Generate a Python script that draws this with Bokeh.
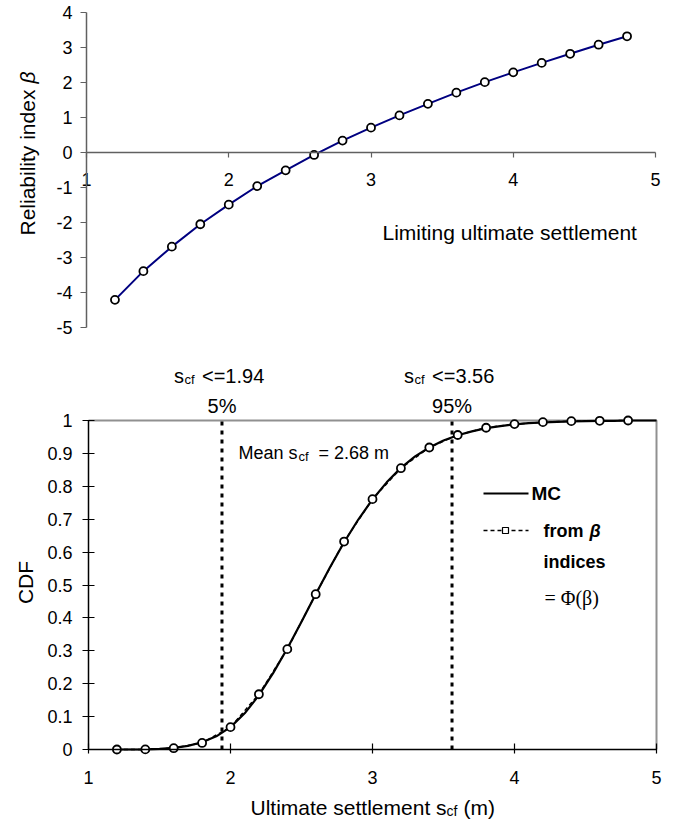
import math
from bokeh.plotting import figure
from bokeh.models import Label, Range1d, LinearAxis, FixedTicker
from bokeh.layouts import column
from bokeh.embed import file_html
from bokeh.resources import INLINE

# ---------------- data ----------------
s_lim = [1.2, 1.4, 1.6, 1.8, 2.0, 2.2, 2.4, 2.6, 2.8, 3.0, 3.2, 3.4, 3.6, 3.8, 4.0, 4.2, 4.4, 4.6, 4.8]
beta = [-4.21, -3.39, -2.69, -2.05, -1.49, -0.96, -0.51, -0.07, 0.34, 0.71, 1.06, 1.39, 1.71,
        2.01, 2.29, 2.56, 2.82, 3.08, 3.32]
cdf_beta = [0.0, 0.0003, 0.004, 0.020, 0.068, 0.168, 0.305, 0.472, 0.632, 0.761, 0.855, 0.918,
            0.956, 0.978, 0.989, 0.995, 0.998, 0.999, 1.0]
mc_s = [1.2, 1.3, 1.4, 1.5, 1.6, 1.7, 1.8, 1.9, 2.0, 2.1, 2.2, 2.3, 2.4, 2.5, 2.6, 2.7, 2.8, 2.9,
        3.0, 3.1, 3.2, 3.3, 3.4, 3.5, 3.6, 3.7, 3.8, 3.9, 4.0, 4.1, 4.2, 4.3, 4.4, 4.5, 4.6, 4.7,
        4.8, 4.9, 5.0]
mc_cdf = [0.0, 0.0, 0.0005, 0.002, 0.005, 0.011, 0.022, 0.040, 0.068, 0.110, 0.165, 0.232, 0.307,
          0.388, 0.472, 0.553, 0.630, 0.699, 0.760, 0.812, 0.856, 0.891, 0.918, 0.939, 0.955,
          0.967, 0.977, 0.983, 0.988, 0.992, 0.994, 0.996, 0.997, 0.998, 0.999, 0.999, 1.0, 1.0, 1.0]
pct_s = [1.94, 3.56]
pct_names = ["5%", "95%"]
mean_s = 2.68
x_ticks = [1, 2, 3, 4, 5]
beta_ticks = [-5, -4, -3, -2, -1, 0, 1, 2, 3, 4]
beta_tick_labels = ["-5", "-4", "-3", "-2", "-1", "0", "1", "2", "3", "4"]
cdf_ticks = [0, 0.1, 0.2, 0.3, 0.4, 0.5, 0.6, 0.7, 0.8, 0.9, 1]
cdf_tick_labels = ["0", "0.1", "0.2", "0.3", "0.4", "0.5", "0.6", "0.7", "0.8", "0.9", "1"]

FONT = "Liberation Sans"
TICK_SIZE = "18px"

# page geometry (pixels in the 680x821 window; figures start at the page corner)
PAGE_X0 = 0
FIG_W = 680
TOP_Y0, TOP_Y1 = 0, 340      # top figure vertical extent on the page
BOT_Y0, BOT_Y1 = 340, 821    # bottom figure vertical extent on the page


def lab(p, x, y, text, size, align="left", baseline="alphabetic", style="normal",
        font=FONT, angle=0.0, x_offset=0):
    p.add_layout(Label(x=x, y=y, text=text, text_font=font, text_font_size=f"{size}px",
                       text_align=align, text_baseline=baseline, text_font_style=style,
                       angle=angle, x_offset=x_offset, text_color="black"))


def style_axis(ax, color, tin, tout, standoff):
    ax.axis_line_color = color
    ax.axis_line_width = 1.5
    ax.major_tick_line_color = color
    ax.major_tick_line_width = 1.2
    ax.major_tick_in = tin
    ax.major_tick_out = tout
    ax.minor_tick_line_color = None
    ax.major_label_text_font = FONT
    ax.major_label_text_font_size = TICK_SIZE
    ax.major_label_text_color = "black"
    ax.major_label_standoff = standoff


# ---------------- top chart ----------------
# reference pixel mapping: x=1 at 86, x=5 at 655 ; y=0 at 152, 35 px per unit
TX0, TXS, TY0, TYS = 86, 142.25, 152, 35.0
p1 = figure(width=FIG_W, height=TOP_Y1 - TOP_Y0,
            x_range=Range1d(1 + (PAGE_X0 - TX0) / TXS, 1 + (PAGE_X0 + FIG_W - TX0) / TXS),
            y_range=Range1d((TY0 - TOP_Y1) / TYS, (TY0 - TOP_Y0) / TYS),
            output_backend="svg", toolbar_location=None, x_axis_type=None, y_axis_type=None,
            min_border=0)
p1.outline_line_color = None

xa = LinearAxis(ticker=FixedTicker(ticks=x_ticks), fixed_location=0, bounds=(1, 5))
ya = LinearAxis(ticker=FixedTicker(ticks=beta_ticks), fixed_location=1, bounds=(-5, 4))
style_axis(xa, "#606060", 0, 5, 15)
style_axis(ya, "#606060", 0, 6, 8)
ya.major_label_overrides = {t: s for t, s in zip(beta_ticks, beta_tick_labels)}
p1.add_layout(xa, "below")
p1.add_layout(ya, "left")

p1.line(s_lim, beta, line_color="#000080", line_width=2)
p1.scatter(s_lim, beta, size=8, marker="circle", fill_color="white", line_color="black",
           line_width=1.8)


def t_xd(px):
    return 1 + (px - TX0) / TXS


def t_yd(py):
    return (TY0 - py) / TYS


lab(p1, t_xd(382), t_yd(232), "Limiting ultimate settlement", 21)
lab(p1, t_xd(27), t_yd(235), "Reliability index", 21, baseline="middle", angle=math.pi / 2)
lab(p1, t_xd(27), t_yd(83), "\u03b2", 21, baseline="middle", angle=math.pi / 2, style="italic")

# ---------------- bottom chart ----------------
# reference pixel mapping: x=1 at 88, x=5 at 656 ; y=0 at 749, y=1 at 420
BX0, BXS, BY0, BYS = 88, 142.0, 749, 329.0
p2 = figure(width=FIG_W, height=BOT_Y1 - BOT_Y0,
            x_range=Range1d(1 + (PAGE_X0 - BX0) / BXS, 1 + (PAGE_X0 + FIG_W - BX0) / BXS),
            y_range=Range1d((BY0 - BOT_Y1) / BYS, (BY0 - BOT_Y0) / BYS),
            output_backend="svg", toolbar_location=None, x_axis_type=None, y_axis_type=None,
            min_border=0)
p2.outline_line_color = None

# grey plot-area border (top and right sides)
p2.line([x_ticks[0], x_ticks[-1], x_ticks[-1]], [cdf_ticks[-1], cdf_ticks[-1], cdf_ticks[0]],
        line_color="#909090", line_width=2)

bx = LinearAxis(ticker=FixedTicker(ticks=x_ticks), fixed_location=0, bounds=(1, 5))
by = LinearAxis(ticker=FixedTicker(ticks=cdf_ticks), fixed_location=1, bounds=(0, 1))
style_axis(bx, "black", 6, 4, 17)
style_axis(by, "black", 6, 6, 10)
by.major_label_overrides = {t: s for t, s in zip(cdf_ticks, cdf_tick_labels)}
p2.add_layout(bx, "below")
p2.add_layout(by, "left")

p2.segment(x0=pct_s, y0=[0, 0], x1=pct_s, y1=[1, 1], line_color="black", line_width=3,
           line_dash="4 5")
p2.line(mc_s, mc_cdf, line_color="black", line_width=2.2)
p2.line(s_lim, cdf_beta, line_color="black", line_width=1.5, line_dash="4 3")
p2.scatter(s_lim, cdf_beta, size=8, marker="circle", fill_color="white", line_color="black",
           line_width=1.8)


def b_xd(px):
    return 1 + (px - BX0) / BXS


def b_yd(py):
    return (BY0 - py) / BYS


# percentile annotations above the plot
for v, name in zip(pct_s, pct_names):
    lab(p2, v, b_yd(375), "s", 20, x_offset=-48)
    lab(p2, v, b_yd(379), "cf", 13, x_offset=-37.5)
    lab(p2, v, b_yd(375), "<=" + f"{v:.2f}", 20, x_offset=-20)
    lab(p2, v, b_yd(405), name, 20, align="center")

# mean annotation
lab(p2, b_xd(238), b_yd(452), "Mean s", 18)
lab(p2, b_xd(298), b_yd(456), "cf", 13)
lab(p2, b_xd(318), b_yd(452), "= " + f"{mean_s:.2f}" + " m", 18)

# axis titles
lab(p2, b_xd(250), b_yd(807), "Ultimate settlement s", 21)
lab(p2, b_xd(446), b_yd(810), "cf", 14)
lab(p2, b_xd(463), b_yd(807), "(m)", 21)
lab(p2, b_xd(25), b_yd(582), "CDF", 21, align="center", baseline="middle", angle=math.pi / 2)

# legend
p2.line([b_xd(483), b_xd(528)], [b_yd(493), b_yd(493)], line_color="black", line_width=2.2)
p2.line([b_xd(483), b_xd(528)], [b_yd(530), b_yd(530)], line_color="black", line_width=1.5,
        line_dash="4 3")
p2.scatter([b_xd(505)], [b_yd(530)], size=6, marker="square", fill_color="white",
           line_color="black", line_width=1.2)
lab(p2, b_xd(531), b_yd(493), "MC", 19, baseline="middle", style="bold")
lab(p2, b_xd(543), b_yd(530), "from", 18, baseline="middle", style="bold")
lab(p2, b_xd(589), b_yd(530), "\u03b2", 18, baseline="middle", style="bold italic")
lab(p2, b_xd(543), b_yd(561), "indices", 18, baseline="middle", style="bold")
lab(p2, b_xd(544), b_yd(597), "= \u03a6(\u03b2)", 20, baseline="middle", font="Liberation Serif")

layout = column(p1, p2, spacing=0)
open("out.html", "w").write(file_html(layout, INLINE))
